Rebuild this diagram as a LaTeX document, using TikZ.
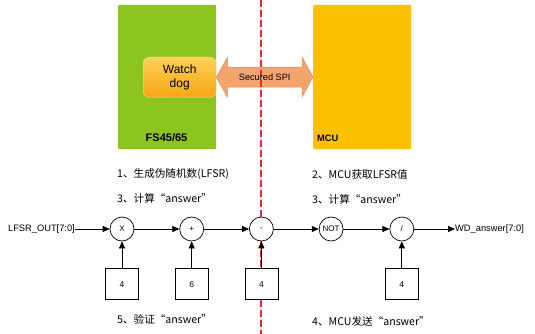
\documentclass[tikz,border=0pt]{standalone}
\usepackage{fontspec}
\setmainfont{Liberation Sans}
\newfontfamily\cjk{Noto Sans CJK SC}
\usetikzlibrary{calc, arrows.meta, positioning}
\definecolor{fsgreen}{RGB}{140,196,32}
\definecolor{mcugold}{RGB}{251,192,0}
\definecolor{wdtop}{RGB}{253,208,86}
\definecolor{wdbot}{RGB}{247,166,20}
\definecolor{wdline}{RGB}{255,228,150}
\definecolor{spifill}{RGB}{244,164,110}
\definecolor{spiline}{RGB}{226,140,80}
\definecolor{cutred}{RGB}{235,40,60}
\tikzset{
  op/.style={circle, draw, fill=white, line width=0.7pt, minimum size=24pt, inner sep=0pt, font=\fontsize{8}{9}\selectfont},
  konst/.style={draw, fill=white, line width=0.7pt, minimum width=33pt, minimum height=31pt, inner sep=0pt, font=\fontsize{8.5}{10}\selectfont},
  flow/.style={line width=0.7pt, -{Triangle[length=7pt,width=6pt]}},
  note/.style={anchor=west, inner sep=0pt, font=\cjk\fontsize{10.6}{12}\selectfont},
}

\begin{document}
\begin{tikzpicture}[x=1pt, y=-1pt]
        \useasboundingbox (0,0) rectangle (535,334);

        \fill[fsgreen, rounded corners=1pt] (118,5) rectangle (216,149);
        \fill[mcugold, rounded corners=1pt] (313,5) rectangle (411,149);
        \node[font=\bfseries\fontsize{11}{13}\selectfont] (fs) at (166.5,138) {FS45/65};
        \node[anchor=west, inner sep=0pt, font=\bfseries\fontsize{9.3}{11}\selectfont] (mcu) at (317,138) {MCU};

        \node[draw=wdline, top color=wdtop, bottom color=wdbot, rounded corners=6pt, minimum width=73pt, minimum height=40pt, align=center, font=\fontsize{12}{14}\selectfont, anchor=north west] (wd) at (143,57) {Watch\\dog};

        \coordinate (spil) at (wd.east);
        \coordinate (spir) at (313,77);
        \filldraw[fill=spifill, draw=spiline, line width=0.5pt] (spil) -- ++(11,-20) -- ++(0,10) -- ($(spir)+(-11,-10)$) -- ++(0,-10) -- (spir) -- ++(-11,20) -- ++(0,-10) -- ($(spil)+(11,10)$) -- ++(0,10) -- cycle;
        \draw[cutred, line width=1.2pt, dash pattern=on 7pt off 3pt] (261,0) -- (261,334);
        \node[font=\fontsize{9.2}{11}\selectfont] (spi) at ($(spil)!0.5!(spir)$) {Secured SPI};

        \node[note] (n1) at (117,174) {1、生成伪随机数(LFSR)};
        \node[note] (n3) at (117,198) {3、计算“answer”};
        \node[note] (n5) at (117,319) {5、验证“answer”};
        \node[note] (n2) at (312,174) {2、MCU获取LFSR值};
        \node[note] (n3b) at (312,199) {3、计算“answer”};
        \node[note] (n4) at (312,321) {4、MCU发送“answer”};

        \node[op] (mul) at (122,229) {X};
        \node[op, right=45pt of mul] (add) {+};
        \node[op, right=45pt of add] (sub) {-};
        \node[op, right=45pt of sub] (inv) {NOT};
        \node[op, right=46pt of inv] (div) {/};

        \node[konst, below=27pt of mul] (k1) {4};
        \node[konst, below=27pt of add] (k2) {6};
        \node[konst, below=27pt of sub] (k3) {4};
        \node[konst, below=27pt of div] (k5) {4};

        \node[anchor=east, inner sep=0pt, font=\fontsize{9.3}{11}\selectfont] (in) at (75,229) {LFSR\_OUT[7:0]};
        \node[anchor=west, inner sep=0pt, font=\fontsize{9.3}{11}\selectfont] (out) at (455,229) {WD\_answer[7:0]};

        \draw[flow] (in.east) -- (mul);
        \foreach \a/\b in {mul/add, add/sub, sub/inv, inv/div}
                \draw[flow] (\a) -- (\b);
        \draw[flow] (div) -- (out.west);
        \foreach \k/\o in {k1/mul, k2/add, k3/sub, k5/div}
                \draw[flow] (\k) -- (\o);
\end{tikzpicture}
\end{document}
